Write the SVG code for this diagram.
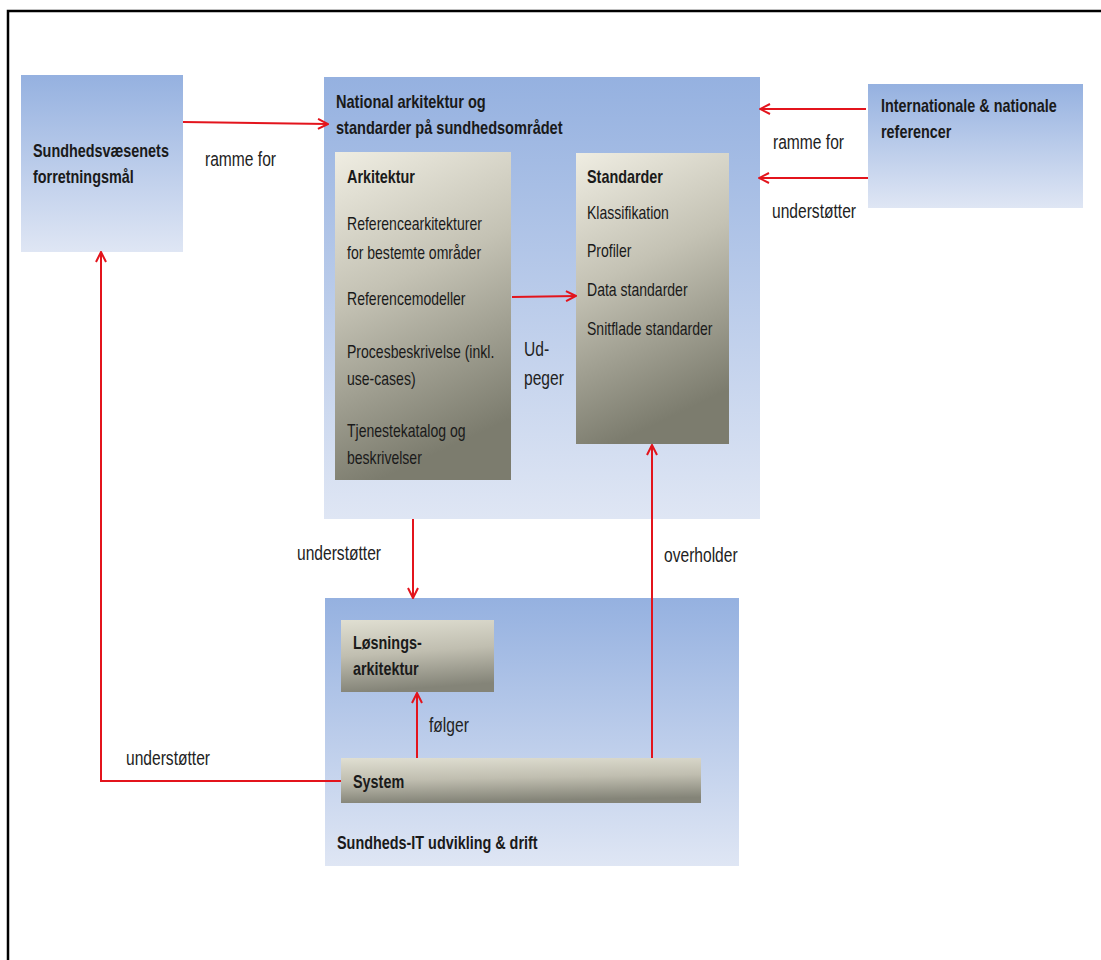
<svg xmlns="http://www.w3.org/2000/svg" width="1101" height="960" viewBox="0 0 1101 960">
  <defs>
    <linearGradient id="blue" x1="0" y1="0" x2="0" y2="1">
      <stop offset="0" stop-color="#95b1e0"/>
      <stop offset="1" stop-color="#dfe6f4"/>
    </linearGradient>
    <linearGradient id="stone" x1="0" y1="0" x2="0.25" y2="1">
      <stop offset="0" stop-color="#efede2"/>
      <stop offset="0.45" stop-color="#c4c2b4"/>
      <stop offset="1" stop-color="#7c7c6e"/>
    </linearGradient>
    <linearGradient id="stoneWide" x1="0" y1="0" x2="0.15" y2="1">
      <stop offset="0" stop-color="#e0dfd2"/>
      <stop offset="0.5" stop-color="#c0beb0"/>
      <stop offset="1" stop-color="#848478"/>
    </linearGradient>
    <marker id="arrow" viewBox="0 0 12 12" refX="11" refY="6" markerWidth="12" markerHeight="12" markerUnits="userSpaceOnUse" orient="auto">
      <path d="M1,1 L11,6 L1,11" fill="none" stroke="#e3141c" stroke-width="2"/>
    </marker>
    <style>
      text { font-family: "Liberation Sans", Arial, sans-serif; font-size: 18px; fill: #1a1a1a; }
      .b { font-weight: bold; font-size: 18px; }
      .lbl { fill: #222; font-size: 19.5px; }
      .conn { fill: none; stroke: #e3141c; stroke-width: 2; }
    </style>
  </defs>

  <rect width="1101" height="960" fill="#ffffff"/>
  <!-- page frame (top and left edges) -->
  <path d="M8,960 V11 H1101" fill="none" stroke="#000" stroke-width="2.5"/>

  <!-- all text is set in a horizontally condensed sans -->
  <g id="forretningsmaal">
    <rect x="21" y="75" width="162" height="177" fill="url(#blue)"/>
    <text class="b" transform="translate(33 157) scale(.8 1)">Sundhedsvæsenets</text>
    <text class="b" transform="translate(33 183) scale(.8 1)">forretningsmål</text>
  </g>

  <g id="national">
    <rect x="324" y="77" width="436" height="442" fill="url(#blue)"/>
    <text class="b" transform="translate(336 108) scale(.81 1)">National arkitektur og</text>
    <text class="b" transform="translate(336 134) scale(.81 1)">standarder på sundhedsområdet</text>
  </g>

  <g id="arkitektur">
    <rect x="335" y="152" width="176" height="328" fill="url(#stone)"/>
    <text class="b" transform="translate(347 183) scale(.8 1)">Arkitektur</text>
    <text transform="translate(347 230) scale(.78 1)">Referencearkitekturer</text>
    <text transform="translate(347 259) scale(.78 1)">for bestemte områder</text>
    <text transform="translate(347 305) scale(.78 1)">Referencemodeller</text>
    <text transform="translate(347 358) scale(.78 1)">Procesbeskrivelse (inkl.</text>
    <text transform="translate(347 385) scale(.78 1)">use-cases)</text>
    <text transform="translate(347 437) scale(.78 1)">Tjenestekatalog og</text>
    <text transform="translate(347 464) scale(.78 1)">beskrivelser</text>
  </g>

  <g id="standarder">
    <rect x="576" y="153" width="153" height="291" fill="url(#stone)"/>
    <text class="b" transform="translate(587 183) scale(.8 1)">Standarder</text>
    <text transform="translate(587 219) scale(.78 1)">Klassifikation</text>
    <text transform="translate(587 257) scale(.78 1)">Profiler</text>
    <text transform="translate(587 296) scale(.78 1)">Data standarder</text>
    <text transform="translate(587 335) scale(.78 1)">Snitflade standarder</text>
  </g>

  <g id="referencer">
    <rect x="868" y="84" width="215" height="124" fill="url(#blue)"/>
    <text class="b" transform="translate(881 112) scale(.8 1)">Internationale &amp; nationale</text>
    <text class="b" transform="translate(881 138) scale(.8 1)">referencer</text>
  </g>

  <g id="sundheds-it">
    <rect x="325" y="598" width="414" height="268" fill="url(#blue)"/>
    <text class="b" transform="translate(337 849) scale(.8 1)">Sundheds-IT udvikling &amp; drift</text>
  </g>

  <g id="loesningsarkitektur">
    <rect x="341" y="620" width="153" height="72" fill="url(#stoneWide)"/>
    <text class="b" transform="translate(353 649) scale(.8 1)">Løsnings-</text>
    <text class="b" transform="translate(353 675) scale(.8 1)">arkitektur</text>
  </g>

  <g id="system">
    <rect x="341" y="758" width="360" height="45" fill="url(#stoneWide)"/>
    <text class="b" transform="translate(353 788) scale(.8 1)">System</text>
  </g>

  <g id="connectors">
    <path class="conn" d="M183,122 L328,124" marker-end="url(#arrow)"/>
    <path class="conn" d="M866,109 L760,109" marker-end="url(#arrow)"/>
    <path class="conn" d="M868,178 L759,178" marker-end="url(#arrow)"/>
    <path class="conn" d="M512,297 L576,296" marker-end="url(#arrow)"/>
    <path class="conn" d="M413,519 L413,598" marker-end="url(#arrow)"/>
    <path class="conn" d="M417,758 L417,693" marker-end="url(#arrow)"/>
    <path class="conn" d="M652,758 L652,445" marker-end="url(#arrow)"/>
    <path class="conn" d="M341,781 L101,781 L101,252" marker-end="url(#arrow)"/>
  </g>

  <g id="labels">
    <text class="lbl" transform="translate(205 166) scale(.8 1)">ramme for</text>
    <text class="lbl" transform="translate(773 149) scale(.8 1)">ramme  for</text>
    <text class="lbl" transform="translate(772 218) scale(.8 1)">understøtter</text>
    <text class="lbl" transform="translate(524 356) scale(.8 1)">Ud-</text>
    <text class="lbl" transform="translate(524 385) scale(.8 1)">peger</text>
    <text class="lbl" transform="translate(297 560) scale(.8 1)">understøtter</text>
    <text class="lbl" transform="translate(664 562) scale(.8 1)">overholder</text>
    <text class="lbl" transform="translate(429 732) scale(.8 1)">følger</text>
    <text class="lbl" transform="translate(126 765) scale(.8 1)">understøtter</text>
  </g>
</svg>
